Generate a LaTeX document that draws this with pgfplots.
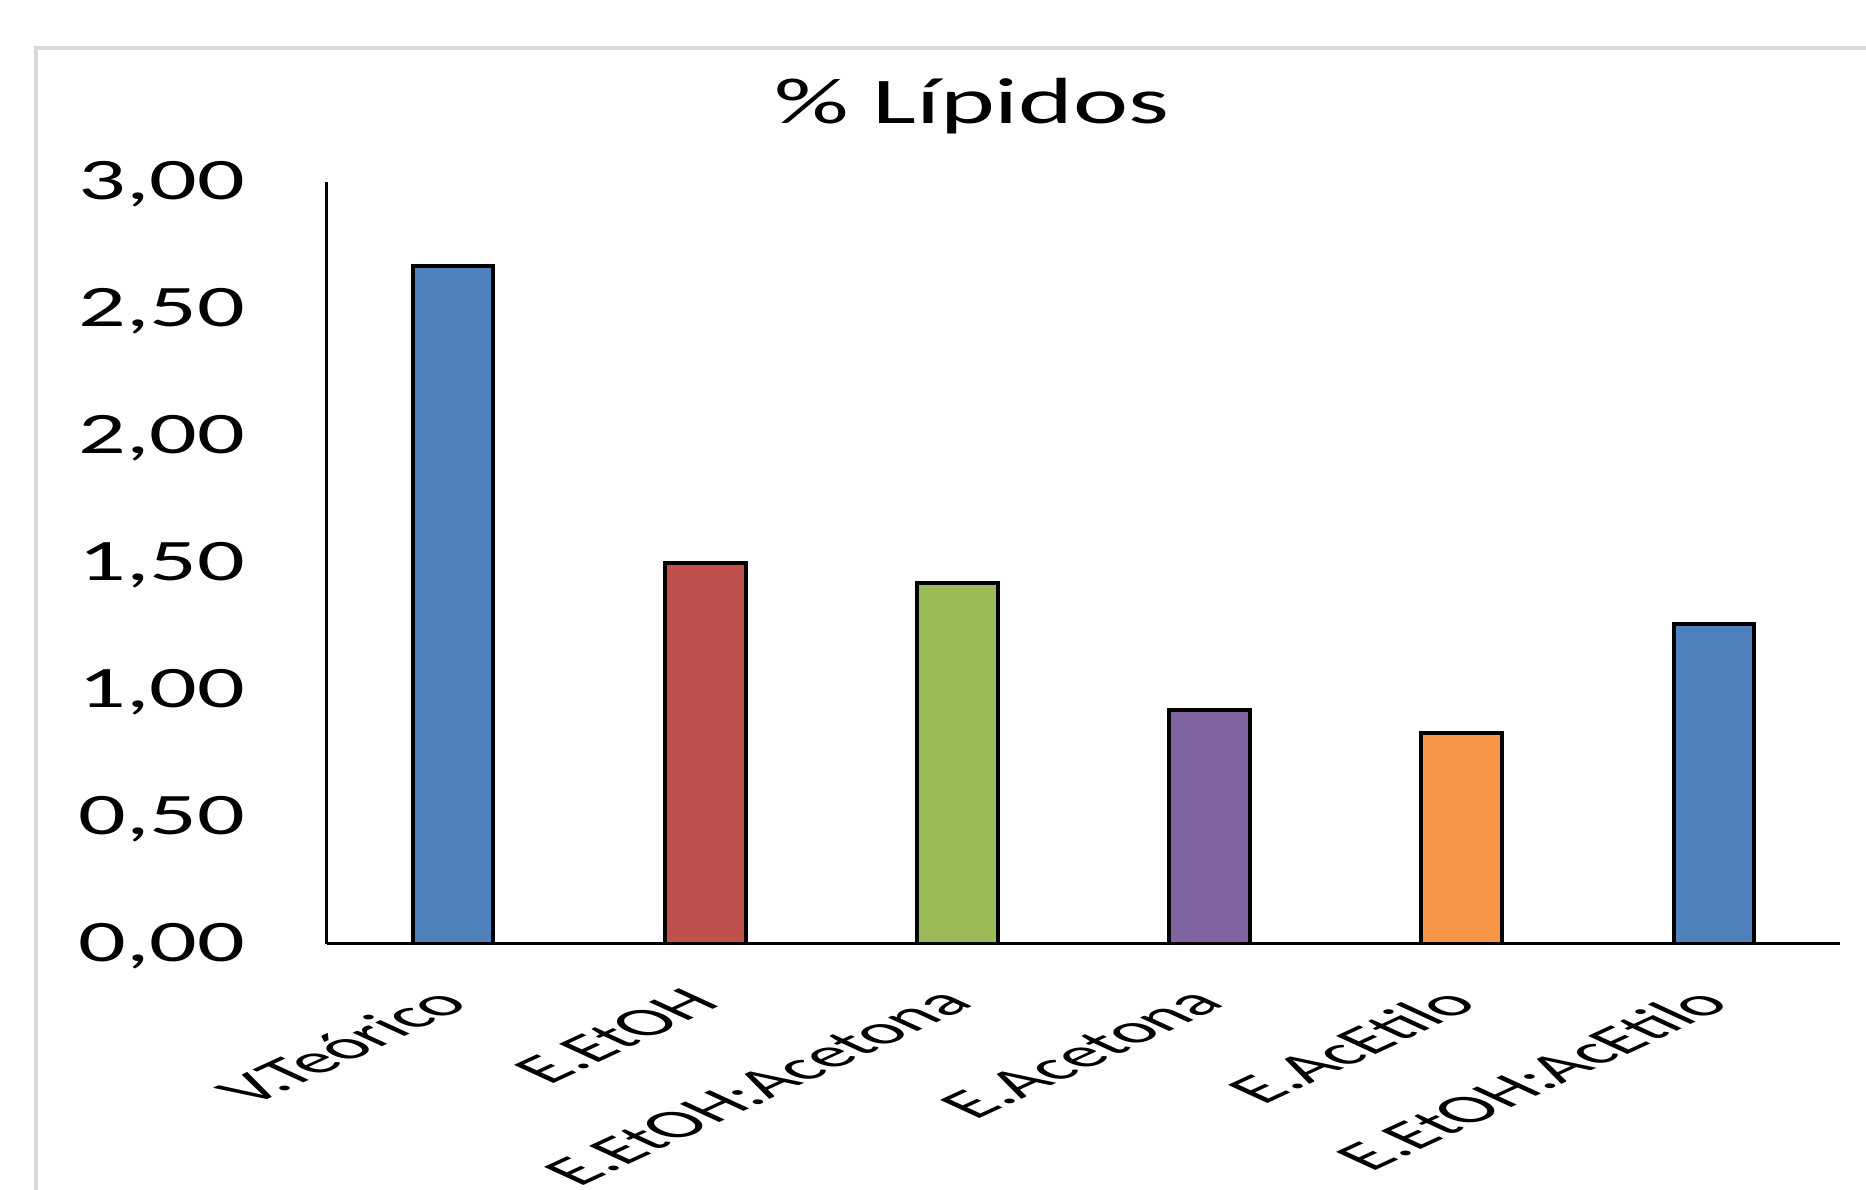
\documentclass[border=0pt]{standalone}
\usepackage{pgfplots}
\pgfplotsset{compat=1.18}
\usepackage{fontspec}
\setmainfont{Carlito}
\newfontfamily\stretched[FakeStretch=1.6]{Carlito}
\definecolor{cblue}{HTML}{4F81BD}
\definecolor{cred}{HTML}{C0504D}
\definecolor{cgreen}{HTML}{9BBB59}
\definecolor{cpurple}{HTML}{8064A2}
\definecolor{corange}{HTML}{F79646}
\definecolor{frame}{HTML}{D9D9D9}
\begin{document}
\begin{tikzpicture}[x=0.25pt,y=0.25pt]
\useasboundingbox (0,0) rectangle (1866,1190);
\draw[frame, line width=1pt] (35.7,-10) -- (35.7,1142.4) -- (1900,1142.4);
\node[anchor=base, font=\stretched\fontsize{16.3pt}{19pt}\selectfont] at (972,1066) {\% Lípidos};
\coordinate (O) at (327,246.3);
\begin{axis}[
  at={(O)}, anchor=south west,
  scale only axis, width=378.25pt, height=190.4pt,
  xmin=-0.5, xmax=5.5, ymin=0, ymax=3,
  axis lines*=left,
  axis line style={line width=0.75pt, -},
  major tick length=0pt,
  ytick={0,0.5,1,1.5,2,2.5,3},
  xtick={0,1,2,3,4,5},
  xticklabels={V.Teórico,E.EtOH,E.EtOH:Acetona,E.Acetona,E.AcEtilo,E.EtOH:AcEtilo},
  /pgf/number format/.cd, use comma, fixed, fixed zerofill, precision=2, assume math mode=true,
  /pgfplots/.cd,
  yticklabel style={font=\stretched\fontsize{14.7pt}{17pt}\selectfont, xshift=-17pt, yshift=-0.5pt},
  xticklabel style={font=\fontsize{10pt}{12pt}\selectfont, anchor=east, yshift=-10.5pt, xshift=5pt, xscale=2.17, rotate=45},
  ybar, bar width=0.32, bar shift=0pt,
  every axis plot/.append style={draw=black, line width=1pt},
]
\addplot[fill=cblue] coordinates {(0,2.67)};
\addplot[fill=cred] coordinates {(1,1.50)};
\addplot[fill=cgreen] coordinates {(2,1.42)};
\addplot[fill=cpurple] coordinates {(3,0.92)};
\addplot[fill=corange] coordinates {(4,0.83)};
\addplot[fill=cblue] coordinates {(5,1.26)};
\end{axis}
\end{tikzpicture}
\end{document}
